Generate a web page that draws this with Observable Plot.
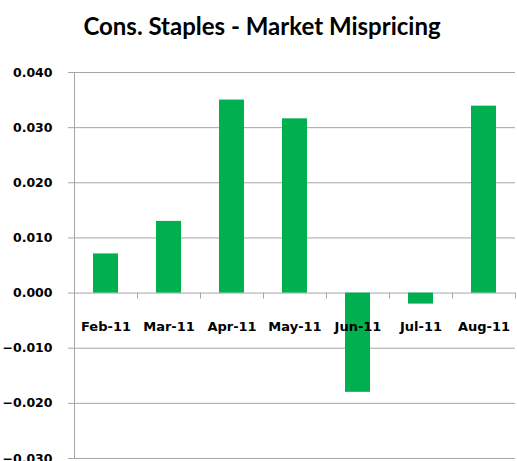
<!DOCTYPE html>
<html>
<head>
<meta charset="utf-8">
<script src="https://cdn.jsdelivr.net/npm/d3@7"></script>
<script src="https://cdn.jsdelivr.net/npm/@observablehq/plot@0.6"></script>
<style>
  body { margin: 0; background: #fff; }
  #wrap { width: 517px; height: 461px; position: relative; overflow: hidden; }
  #title { height: 44px; width: 517px; box-sizing: border-box; padding-left: 7px; padding-top: 12px;
           font: bold 24px Lato, sans-serif; text-align: center; color: #000; line-height: 28px; }
</style>
</head>
<body>
<div id="wrap">
  <div id="title">Cons. Staples - Market Mispricing</div>
  <div id="chart"></div>
</div>
<script>
const categories = ["Feb-11", "Mar-11", "Apr-11", "May-11", "Jun-11", "Jul-11", "Aug-11"];
const values = [0.0071, 0.0130, 0.0350, 0.0316, -0.0180, -0.0020, 0.0339];
const yTicks = [-0.03, -0.02, -0.01, 0, 0.01, 0.02, 0.03, 0.04];

const data = categories.map((c, i) => ({ month: c, value: values[i] }));
const gray = "#a6a6a6";
const green = "#00b050";

const W = 517, H = 417, mL = 74, mR = 2, mT = 28, mB = 3;
const step = (W - mL - mR) / categories.length;
const pxPerUnit = (H - mT - mB) / 0.07;
const catTick = 6 / pxPerUnit;

const chart = Plot.plot({
  width: W, height: H,
  marginLeft: mL, marginRight: mR, marginTop: mT, marginBottom: mB,
  x: { domain: categories, paddingInner: 0.6, paddingOuter: 0.3, axis: null },
  y: { domain: [-0.03, 0.04], axis: null },
  marks: [
    Plot.ruleY(yTicks, { stroke: gray, strokeWidth: 1 }),
    Plot.axisY({ ticks: yTicks, tickSize: 6, tickPadding: 16, tickFormat: d3.format(".3f"), stroke: gray,
                 strokeOpacity: 1, fontSize: 12.5, fontWeight: "bold", fill: "#000", label: null,
                 fontFamily: "DejaVu Sans" }),
    Plot.frame({ anchor: "left", stroke: gray }),
    Plot.barY(data, { x: "month", y: "value", fill: green }),
    Plot.ruleX(categories, { x: d => d, dx: -step / 2, y1: 0, y2: -catTick, stroke: gray }),
    Plot.ruleX(categories.slice(-1), { x: d => d, dx: step / 2, y1: 0, y2: -catTick, stroke: gray }),
    Plot.text(data, { x: "month", y: 0, text: "month", dy: 34, fontSize: 13, fontWeight: "bold",
                      fill: "#000", fontFamily: "DejaVu Sans", lineAnchor: "middle" })
  ]
});
document.getElementById("chart").appendChild(chart);
</script>
</body>
</html>
